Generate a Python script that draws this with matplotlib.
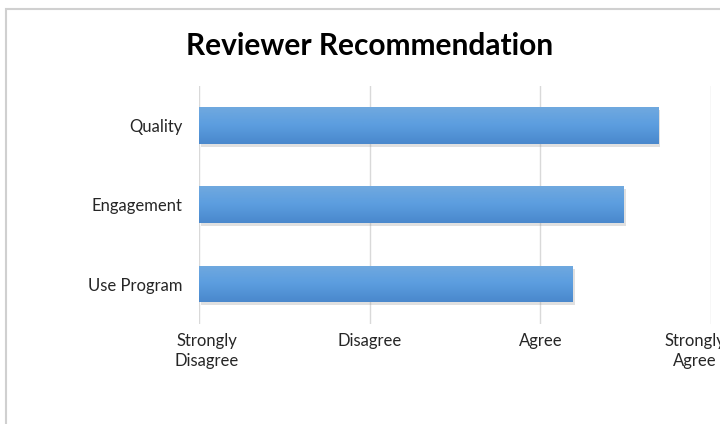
import matplotlib.pyplot as plt
import matplotlib.patches as mpatches
from matplotlib.colors import LinearSegmentedColormap
from matplotlib.transforms import ScaledTranslation
import numpy as np

categories = ["Quality", "Engagement", "Use Program"]
scores = [3.69, 3.49, 3.19]
scale_ticks = [1, 2, 3, 4]
scale_labels = ["Strongly\nDisagree", "Disagree", "Agree", "Strongly\nAgree"]

plt.rcParams['font.family'] = ['Lato', 'DejaVu Sans']

fig = plt.figure(figsize=(7.2, 4.24), dpi=100)
fig.patch.set_facecolor('white')

# chart frame like the spreadsheet export
frame = mpatches.Rectangle((6 / 720, -0.1), 1.2, 1 - 9 / 424 + 0.1, transform=fig.transFigure,
                           facecolor='none', edgecolor='#d0d0d0', linewidth=1.5, zorder=-1)
fig.patches.append(frame)

ax = fig.add_axes([199 / 720, 1 - 323.6 / 424, 512 / 720, 237.6 / 424])
ax.set_facecolor('none')

y = np.arange(len(categories))[::-1]
bar_h = 0.465
bars = ax.barh(y, np.array(scores) - 1, left=1, height=bar_h, color='#5b9bd5', zorder=3)

# soft shadow + vertical gradient on each bar
grad = LinearSegmentedColormap.from_list('g', ['#4a88cc', '#5b9ddf', '#70a9df'])
shadow_off = ScaledTranslation(2 / 100, -3 / 100, fig.dpi_scale_trans)
for b in bars:
    x0, y0 = b.get_x(), b.get_y()
    w, h = b.get_width(), b.get_height()
    sh = mpatches.Rectangle((x0, y0), w, h, transform=ax.transData + shadow_off,
                            facecolor='#9a9a9a', alpha=0.3, edgecolor='none', zorder=2)
    ax.add_patch(sh)
    img = ax.imshow(np.linspace(0, 1, 64).reshape(-1, 1), extent=[x0, x0 + w, y0, y0 + h],
                    origin='lower', aspect='auto', cmap=grad, zorder=4)
    img.set_clip_path(b)

ax.set_xlim(1, 4)
ax.set_ylim(-0.5, len(categories) - 0.5)

ax.set_xticks(scale_ticks)
ax.set_xticklabels(scale_labels, fontsize=12, color='#262626', linespacing=1.3)
ax.set_yticks(y)
ax.set_yticklabels(categories, fontsize=12, color='#262626')
ax.tick_params(axis='both', length=0)
ax.tick_params(axis='x', pad=7)
ax.tick_params(axis='y', pad=12)

# edge labels pulled inward
lbls = ax.get_xticklabels()
lbls[0].set_transform(lbls[0].get_transform() + ScaledTranslation(8 / 100, 0, fig.dpi_scale_trans))
lbls[-1].set_transform(lbls[-1].get_transform() + ScaledTranslation(-16 / 100, 0, fig.dpi_scale_trans))

ax.grid(axis='x', color='#d9d9d9', linewidth=1, zorder=0)
ax.set_axisbelow(True)
for s in ax.spines.values():
    s.set_visible(False)

fig.text(370 / 720, 1 - 46 / 424, "Reviewer Recommendation", ha='center', va='center',
         fontsize=21.5, fontweight='bold', color='black')

fig.savefig("out.png", dpi=100)
